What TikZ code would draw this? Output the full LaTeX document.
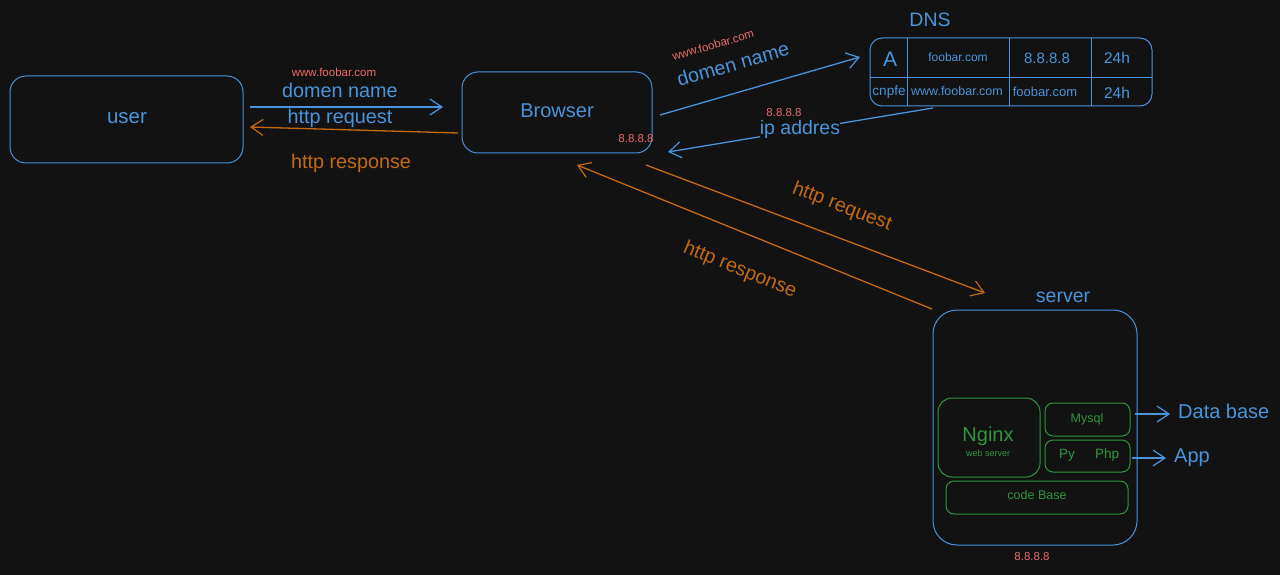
\documentclass[tikz,border=0pt]{standalone}
\usepackage{fontspec}
\setmainfont{Liberation Sans}
\usetikzlibrary{arrows.meta}
\definecolor{bg}{RGB}{18,18,18}
\definecolor{sblue}{RGB}{74,148,220}
\definecolor{sorange}{RGB}{196,106,18}
\definecolor{sred}{RGB}{232,108,108}
\definecolor{sgreen}{RGB}{47,150,62}
\tikzset{
  bluebox/.style={draw=sblue, line width=1pt, rounded corners=16pt},
  greenbox/.style={draw=sgreen, line width=1pt, rounded corners=8pt},
  cellline/.style={draw=sblue, line width=1pt},
  barb/.style={-{Straight Barb[length=12pt,width=16pt,line width=1.2pt]}},
  bluearrow/.style={draw=sblue, line width=1.3pt, barb},
  orangearrow/.style={draw=sorange, line width=1.3pt, barb},
  txt/.style={inner sep=1pt, font=\fontsize{#1}{#1}\selectfont},
  btxt/.style={txt=#1, text=sblue},
  otxt/.style={txt=#1, text=sorange},
  rtxt/.style={txt=#1, text=sred},
  gtxt/.style={txt=#1, text=sgreen},
}
\begin{document}
\begin{tikzpicture}[x=1pt,y=-1pt]
\useasboundingbox[fill=bg] (0,0) rectangle (1280,575);
% user and browser
\draw[bluebox] (10,76) rectangle (243,163);
\node[btxt=20.5] (user) at (127,118) {user};
\draw[bluebox] (462,72) rectangle (652,153);
\node[btxt=20] (browser) at (557,111) {Browser};
\node[rtxt=11.5] (bip) at (636,139) {8.8.8.8};
\coordinate (u1) at (250,107);
\coordinate (b1) at (443,107);
\coordinate (b2) at (458,133);
\coordinate (u2) at (250,127);
\draw[bluearrow] (u1) -- (b1);
\draw[orangearrow] (b2) -- (u2);
\node[rtxt=11.5] (w1) at (334,72) {www.foobar.com};
\node[btxt=19.8] (dn1) at (340,90) {domen name};
\node[btxt=19.8] (hr1) at (340,118) {http request};
\node[otxt=19.8] (hs1) at (351,163) {http response};
% DNS table
\node[btxt=19.5] (dnsl) at (930,20) {DNS};
\draw[cellline, rounded corners=12pt] (870,38) rectangle (1152,106);
\draw[cellline] (870,78) -- (1152,78);
\draw[cellline] (907,38) -- (907,106);
\draw[cellline] (1009,38) -- (1009,106);
\draw[cellline] (1091,38) -- (1091,106);
\node[btxt=21] (ca) at (890,59) {A};
\node[btxt=12] (cb) at (958,57) {foobar.com};
\node[btxt=15] (cc) at (1047,58) {8.8.8.8};
\node[btxt=15.5] (cd) at (1117,58) {24h};
\node[btxt=13.5] (ce) at (889,92) {cnpfe};
\node[btxt=12.5] (cf) at (957,91) {www.foobar.com};
\node[btxt=13] (cg) at (1045,92) {foobar.com};
\node[btxt=15.5] (ch) at (1117,93) {24h};
\coordinate (b3) at (660,115);
\coordinate (d1) at (860,57);
\draw[bluearrow] (b3) -- (d1);
\node[rtxt=11.5, rotate=16] (w2) at (713,45) {www.foobar.com};
\node[btxt=19.8, rotate=16] (dn2) at (733,64) {domen name};
\coordinate (d2) at (933,108);
\coordinate (b4) at (668,152);
\draw[bluearrow] (d2) -- (b4);
\node[btxt=19.5, fill=bg, inner sep=0pt] (ip) at (800,129) {ip addres};
\node[rtxt=11.5] (ipn) at (784,113) {8.8.8.8};
% browser <-> server
\coordinate (b5) at (646,165);
\coordinate (s1) at (985,293);
\coordinate (s2) at (932,309);
\coordinate (b6) at (577,165);
\draw[orangearrow] (b5) -- (s1);
\draw[orangearrow] (s2) -- (b6);
\node[otxt=19.8, rotate=-21] (hr2) at (842,207) {http request};
\node[otxt=19.8, rotate=-22] (hs2) at (740,270) {http response};
% server
\node[btxt=19.5] (serverl) at (1063,297) {server};
\draw[bluebox, rounded corners=24pt] (933,310) rectangle (1137,545);
\node[rtxt=11.5] (sip) at (1032,557) {8.8.8.8};
\draw[greenbox, rounded corners=14pt] (938,398) rectangle (1040,477);
\node[gtxt=20] (nginx) at (988,436) {Nginx};
\node[gtxt=9] (websrv) at (988,453) {web server};
\draw[greenbox] (1045,403) rectangle (1130,436);
\node[gtxt=12.5] (mysql) at (1087,419) {Mysql};
\draw[greenbox] (1045,440) rectangle (1130,472);
\node[gtxt=13.5] (py) at (1067,455) {Py};
\node[gtxt=13.5] (php) at (1107,455) {Php};
\draw[greenbox] (946,481) rectangle (1128,514);
\node[gtxt=12.5] (code) at (1037,495) {code Base};
\coordinate (m1) at (1135,414);
\coordinate (m2) at (1170,414);
\draw[bluearrow] (m1) -- (m2);
\node[btxt=20, anchor=west] (db) at (1177,411) {Data base};
\coordinate (p1) at (1132,458);
\coordinate (p2) at (1166,458);
\draw[bluearrow] (p1) -- (p2);
\node[btxt=20, anchor=west] (app) at (1173,458) {App};
\end{tikzpicture}
\end{document}
